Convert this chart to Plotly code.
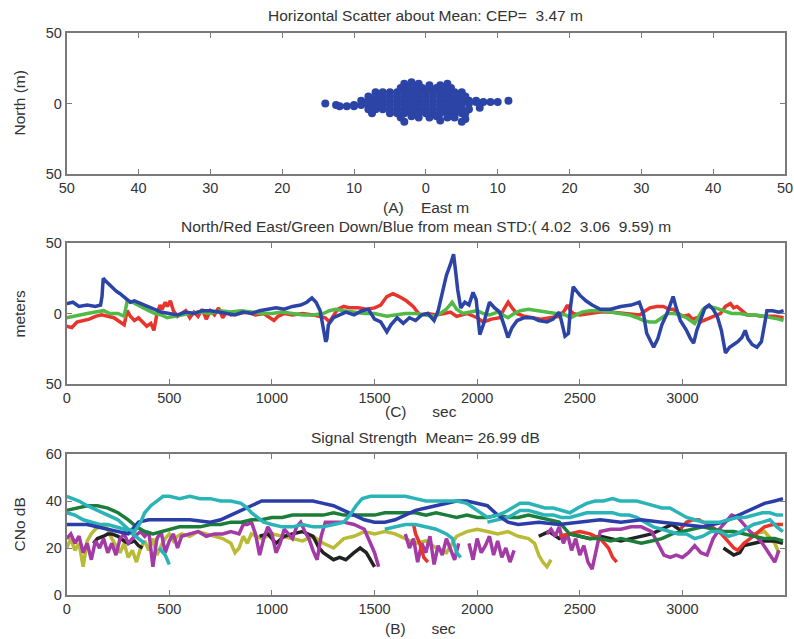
import plotly.graph_objects as go

# ---------------- Panel A: horizontal scatter (East, North in m) ----------------
scat_east = [
    -3, -2, -1, 0.5, 2, 3,
    -3.5, -2.5, -1.5, -0.5, 0.5, 1.5, 2.5, 3.5,
    -7, -6, -5, -4, -3, -2, -1, 0, 1, 2, 3, 4, 5,
    -8, -7, -6, -5, -4, -3, -2, -1, 0, 1, 2, 3, 4, 5, 5.5,
    -9, -8, -7, -6, -5, -4, -3, -2, -1, 0, 1, 2, 3, 4, 5, 6, 7,
    -14, -12.5, -11, -10, -9, -8, -7, -6, -5, -4, -3, -2, -1, 0, 1, 2, 3, 4, 5, 6, 7, 8, 9, 10, 11.5,
    -12, -10, -8, -7, -6, -5, -4, -3, -2, -1, 0, 1, 2, 3, 4, 5, 6, 7.5,
    -5, -4, -3, -2, -1, 0, 1, 2, 3, 4, 5, 5.5,
    -7.5, -3.5, -2, -1, 0.5, 1.5, 3, 4, 5.5,
    -3, 2, 5,
]
scat_north = [
    14, 15, 14, 13, 13, 14,
    11, 11, 11, 11, 11, 11, 11, 11,
    8, 8, 8, 8, 8, 8, 8, 8, 8, 8, 8, 8, 8,
    5, 5, 5, 5, 5, 5, 5, 5, 5, 5, 5, 5, 5, 5, 5,
    2, 2, 2, 2, 2, 2, 2, 2, 2, 2, 2, 2, 2, 2, 2, 2, 2,
    0, -1, -2, -1, -1, -1, -1, -1, -1, -1, -1, -1, -1, -1, -1, -1, -1, -1, -1, 0, 1, 1, 1, 1, 2,
    -2, -2, -4, -4, -4, -4, -4, -4, -4, -4, -4, -4, -4, -4, -4, -4, -4, -3,
    -7, -7, -7, -7, -7, -7, -7, -7, -7, -7, -7, -7,
    -7, -10, -9, -10, -10, -9, -10, -10, -11,
    -13, -12, -13,
]
scatter_xticks = [-50, -40, -30, -20, -10, 0, 10, 20, 30, 40, 50]
scatter_xticktext = ["50", "40", "30", "20", "10", "0", "10", "20", "30", "40", "50"]
pos_yticks = [-50, 0, 50]
pos_yticktext = ["50", "0", "50"]

# ---------------- Panel C: N/E/D deviation from mean (m) vs sec ----------------
down_t = [0, 30, 60, 100, 140, 165, 172, 178, 190, 210, 240, 260, 290, 310, 330, 360, 400, 430, 460, 500,
          540, 580, 620, 660, 700, 740, 780, 820, 860, 900, 940, 980, 1020, 1060, 1100, 1140, 1170, 1195,
          1215, 1235, 1250, 1262, 1268, 1275, 1300, 1330, 1360, 1400, 1440, 1470, 1500, 1530, 1560, 1580,
          1610, 1640, 1670, 1700, 1730, 1760, 1790, 1810, 1830, 1850, 1870, 1885, 1895, 1905, 1920, 1940,
          1960, 1980, 1995, 2005, 2013, 2030, 2060, 2085, 2110, 2135, 2150, 2170, 2195, 2230, 2270, 2300,
          2340, 2370, 2400, 2415, 2428, 2445, 2455, 2468, 2485, 2500, 2530, 2560, 2600, 2650, 2700, 2750,
          2790, 2810, 2826, 2845, 2860, 2880, 2900, 2925, 2945, 2955, 2970, 2990, 3020, 3040, 3055, 3070,
          3090, 3110, 3130, 3150, 3170, 3190, 3210, 3230, 3250, 3270, 3290, 3306, 3320, 3340, 3363, 3385,
          3400, 3412, 3440, 3470, 3493]
down_m = [7, 8, 5, 6, 5, 6, 12, 25, 23, 20, 16, 14, 10, 8, 9, 7, 5, 3, 1, 0,
          -1, 1, 0, 2, 2, 1, 0, -1, 1, 0, 2, 3, 4, 3, 5, 6, 8, 11,
          8, 2, -10, -20, -18, -8, -3, -1, 1, -1, 2, 3, -4, -6, -13, -8,
          -3, -7, -3, -5, -1, 0, -5, 2, 15, 27, 35, 42, 30, 17, 4, 8,
          6, 15, 10, -5, -15, -8, 8, 4, 1, -10, -17, -10, -5, -3, -3, -5,
          -6, -4, 1, -8, -16, -14, 5, 19, 16, 13, 9, 6, 3, 3, 5, 6,
          8, 0, -14, -20, -24, -18, -8, 0, 8, 12, 4, -5, -12, -18, -21, -12,
          -4, 4, 6, 3, -2, -12, -28, -24, -22, -20, -17, -12, -18, -22, -24, -20,
          -8, 2, 2, 1, 2]

north_t = [0, 25, 50, 80, 110, 140, 170, 200, 230, 260, 280, 295, 310, 330, 350, 370, 390, 410, 425, 440,
           455, 465, 480, 490, 505, 520, 540, 560, 580, 600, 620, 640, 660, 680, 700, 720, 740, 760, 780,
           800, 840, 880, 920, 960, 990, 1010, 1030, 1060, 1100, 1150, 1200, 1230, 1260, 1280, 1300, 1320,
           1350, 1380, 1420, 1460, 1500, 1530, 1560, 1590, 1620, 1655, 1688, 1720, 1760, 1800, 1840, 1870,
           1900, 1950, 2000, 2030, 2070, 2111, 2130, 2151, 2175, 2193, 2230, 2274, 2310, 2355, 2400, 2425,
           2440, 2455, 2468, 2500, 2550, 2600, 2650, 2712, 2760, 2793, 2820, 2842, 2875, 2907, 2935, 2955,
           2980, 3004, 3030, 3050, 3070, 3090, 3103, 3130, 3152, 3185, 3210, 3234, 3250, 3266, 3290, 3315,
           3350, 3380, 3412, 3450, 3493]
north_dev = [-9, -10, -6, -5, -4, -2, -1, -2, -3, -6, -8, 2, -2, -5, -3, -6, -9, -7, -12, 0,
             6, 3, 8, 5, 9, 2, -2, 0, 2, -3, 1, -2, 3, -4, 2, -1, 4, -3, 1,
             -1, 0, 1, -1, 0, -3, -5, -2, 0, -1, 0, -1, -2, -3, -6, -1, 3,
             5, 4, 4, 3, 4, 6, 12, 14, 12, 9, 5, -1, 0, -1, 0, 1,
             -2, 0, -3, -6, -4, -3, 3, 8, 3, 0, -2, -3, -4, -3, -2, 2,
             6, 2, 0, -1, 0, 1, 1, 0, -1, -1, 2, 4, 5, 5, 3, 3,
             0, -2, -1, -4, -3, -6, -5, -3, -2, 0, 5, 7, 4, 5, 2, -1,
             -1, -2, -2, -2, -3]

east_t = [0, 30, 60, 100, 140, 180, 210, 250, 280, 295, 320, 345, 370, 400, 430, 460, 490, 520, 560, 600,
          650, 700, 750, 800, 850, 900, 950, 1000, 1050, 1100, 1150, 1200, 1250, 1280, 1310, 1350, 1400,
          1450, 1500, 1530, 1560, 1600, 1650, 1700, 1750, 1790, 1820, 1850, 1878, 1900, 1930, 1960, 2000,
          2030, 2060, 2100, 2130, 2150, 2180, 2210, 2250, 2300, 2350, 2400, 2430, 2455, 2480, 2510, 2550,
          2600, 2650, 2700, 2740, 2780, 2810, 2840, 2870, 2900, 2930, 2960, 2990, 3020, 3040, 3060, 3080,
          3100, 3130, 3160, 3200, 3240, 3280, 3320, 3360, 3400, 3440, 3470, 3493]
east_dev = [-3, -2, -1, 0, 1, 2, 0, 0, -2, 9, 8, 6, 4, 2, 0, -1, -3, -2, -1, 0,
            1, 0, 2, 1, 2, 1, 0, 0, 1, 0, -1, -1, 0, 2, 3, 2, 1,
            0, 0, -1, -2, -1, 0, 0, -1, -2, 0, 3, 8, 3, 0, 1, 2,
            0, -1, 1, -1, -3, 0, 2, 3, 2, 1, 0, -1, -3, -1, 1, 2,
            2, 1, 0, -1, -3, -5, -6, -6, -3, 0, 0, -1, -3, -5, -7, -2,
            3, 5, 4, 2, 0, 0, -1, -1, -2, -3, -4, -5]

# ---------------- Panel B: signal strength CNo (dB) vs sec ----------------
cyan1_t = [0, 30, 60, 100, 150, 200, 250, 300, 330, 360, 380, 410, 440, 470, 500, 550, 600, 650, 700, 750,
           800, 850, 880, 900, 930, 960, 1000, 1050, 1100, 1150, 1200, 1250, 1300, 1350, 1380, 1410, 1440,
           1480, 1550, 1600, 1650, 1700, 1750, 1800, 1850, 1900, 1950, 2000, 2050, 2100, 2130, 2170, 2209,
           2250, 2290, 2330, 2371, 2410, 2452, 2490, 2534, 2575, 2615, 2660, 2696, 2740, 2777, 2820, 2858,
           2900, 2939, 2980, 3021, 3060, 3102, 3140, 3183, 3225, 3265, 3305, 3346, 3390, 3427, 3460, 3490]
cyan1_db = [42, 41, 40, 38, 36, 34, 32, 28, 27, 31, 35, 38, 40, 42, 42, 41, 42, 41, 41, 40,
            40, 39, 37, 35, 33, 31, 30, 29, 29, 30, 29, 29, 30, 31, 34, 38, 41,
            42, 42, 42, 42, 41, 40, 40, 40, 40, 39, 36, 33, 34, 35, 37, 39,
            39, 38, 37, 37, 36, 35, 37, 39, 40, 40, 41, 40, 40, 40, 39, 38,
            37, 37, 35, 33, 32, 31, 31, 31, 32, 33, 33, 34, 35, 35, 34, 34]

cyan2_t = [0, 40, 80, 120, 160, 200, 240, 280, 320, 350, 380, 400, 450, 480, 500,
           1500, 1550, 1600, 1650, 1700, 1750, 1800, 1850, 1880, 1900, 1920, 1940,
           2050, 2100, 2150, 2209, 2250, 2290, 2330, 2371, 2410, 2452, 2490, 2534, 2575, 2615, 2660, 2700,
           2740, 2777, 2820, 2858, 2900, 2939, 2980, 3020, 3060, 3100, 3140, 3183, 3225, 3265, 3305, 3346,
           3390, 3427, 3460, 3490]
cyan2_db = [35, 34, 32, 31, 30, 30, 29, 28, 26, 24, 22, None, 20, 17, 13,
            None, 28, 29, 30, 30, 29, 28, 26, 24, 18, 16, None,
            31, 32, 33, 36, 36, 35, 34, 34, 33, 33, 34, 35, 35, 35, 35, 34,
            34, 33, 31, 29, 28, 27, 26, 26, 24, 25, 27, 27, 25, 26, 28, 30,
            31, 32, 29, 27]

blue_t = [0, 100, 200, 300, 350, 400, 500, 600, 700, 750, 800, 850, 900, 950, 1000, 1100, 1200, 1250,
          1300, 1350, 1400, 1450, 1500, 1550, 1600, 1650, 1700, 1750, 1800, 1850, 1900, 1950, 2000, 2050,
          2100, 2150, 2200, 2300, 2400, 2500, 2600, 2700, 2800, 2900, 3000, 3100, 3200, 3250, 3300, 3350,
          3400, 3450, 3490]
blue_db = [30, 30, 28, 26, 31, 32, 32, 32, 31, 32, 34, 36, 38, 40, 40, 40, 40, 39,
           38, 36, 34, 32, 31, 31, 32, 34, 36, 37, 38, 39, 40, 40, 39, 38,
           34, 31, 30, 31, 30, 31, 32, 31, 32, 31, 30, 29, 31, 33, 35, 37,
           39, 40, 41]

green_t = [0, 50, 100, 150, 200, 250, 300, 340, 380, 420, 460, 500, 550, 600, 650, 700, 750, 800, 850,
           900, 950, 1000, 1050, 1100, 1150, 1200, 1250, 1300, 1350, 1400, 1450, 1500, 1550, 1600, 1650,
           1700, 1750, 1800, 1850, 1900, 1950, 2000, 2050, 2100, 2150, 2200, 2250, 2300, 2350, 2400, 2430,
           2450, 2500, 2550, 2600, 2650, 2700, 2750, 2800, 2850, 2900, 2950, 3000, 3050, 3100, 3150, 3200,
           3250, 3300, 3350, 3400, 3450, 3490]
green_db = [36, 37, 38, 38, 37, 35, 32, 29, 27, 26, 27, 28, 29, 29, 29, 30, 30, 31, 31,
            32, 32, 33, 33, 34, 34, 34, 34, 35, 34, 34, 34, 34, 35, 35, 35,
            35, 34, 35, 34, 33, 34, 33, 33, 34, 33, 33, 34, 33, 32, 31, 28,
            26, 25, 24, 24, 23, 24, 23, 22, 23, 24, 26, 27, 28, 29, 28, 27,
            27, 26, 25, 24, 24, 23]

magenta_t = [0, 20, 40, 60, 80, 100, 120, 140, 160, 180, 200, 220, 240, 260, 280, 300, 330, 360, 380, 400,
             420, 440, 460, 480, 500, 520, 540, 560, 600, 640, 680, 720, 760, 800, 840, 860, 880, 900, 920,
             940, 960, 980, 1000, 1020, 1040, 1060, 1080, 1100, 1120, 1140, 1160, 1180, 1200, 1220, 1240,
             1260, 1300, 1350, 1400, 1450, 1480, 1500, 1520, 1560,
             1650, 1670, 1690, 1710, 1730, 1750, 1770, 1790, 1810, 1830, 1850, 1870, 1890, 1910, 1930,
             1960, 1980, 2000, 2020, 2040, 2060, 2080, 2100, 2120, 2140, 2160, 2180, 2200,
             2340, 2360, 2380, 2400, 2420, 2440, 2460, 2480, 2500, 2520, 2540, 2560, 2600, 2650, 2700,
             2750, 2800, 2850, 2880, 2910, 2940, 2970, 3000, 3030, 3060, 3090, 3120, 3150, 3180, 3210,
             3240, 3270, 3300, 3330, 3360, 3390, 3420, 3450, 3470]
magenta_db = [24, 26, 22, 25, 18, 22, 15, 23, 20, 24, 18, 22, 17, 24, 26, 22, 25, 27, 25, 27,
              12, 24, 27, 18, 23, 26, 20, 25, 26, 27, 25, 26, 26, 27, 26, 30, 30, 31, 26,
              17, 24, 29, 26, 18, 22, 28, 26, 24, 29, 31, 27, 24, 19, 15, 25,
              31, 31, 31, 30, 28, 22, 18, 12, None,
              26, 20, 24, 14, 22, 18, 25, 13, 21, 17, 24, 19, 15, 22, None,
              22, 15, 24, 18, 21, 25, 17, 23, 16, 20, 14, 19, None,
              26, 28, 25, 29, 22, 26, 19, 24, 17, 21, 14, 11, 27, 28, 28,
              29, 29, 27, 22, 17, 16, 17, 16, 18, 21, 18, 17, 24, 28, 31,
              34, 33, 30, 27, 25, 22, 18, 14, 19]

olive_t = [0, 20, 40, 60, 80, 100, 120, 140, 160, 180, 200, 220, 240, 260, 280, 300, 320, 340, 360, 380,
           400, 420, 440, 460, 480, 500, 520, 540, 560, 600, 640, 680, 720, 760, 800, 820, 840, 860, 880,
           900, 950, 1000, 1050, 1100, 1150, 1200, 1250, 1300, 1350, 1400, 1450, 1500, 1550, 1600, 1650,
           1700, 1750, 1800, 1850, 1900, 1950, 2000, 2050, 2100, 2150, 2200, 2250, 2280, 2300, 2320, 2340,
           2360, 3300, 3350, 3400, 3450, 3470]
olive_db = [20, 24, 19, 22, 12, 23, 26, 28, 29, 30, 28, 24, 21, 18, 22, 16, 19, 14, 20, 23,
            19, 24, 17, 21, 24, 26, 23, 25, 26, 25, 27, 26, 25, 24, 22, 18, 20, 25, 22,
            26, 24, 26, 25, 24, 23, 25, 22, 20, 24, 25, 27, 26, 27, 26, 24,
            22, 23, 20, 18, 25, 27, 28, 27, 26, 27, 25, 24, 22, 17, 14, 12,
            15, None, 26, 27, 22, 18]

black_t = [130, 150, 180, 200, 220, 250, 280, 300, 330, 350, 370, 380,
           940, 980, 1020, 1060, 1100, 1150, 1200, 1230, 1250, 1280, 1300, 1330, 1360, 1400, 1430, 1460,
           1480, 1500, 1510,
           2300, 2350, 2400, 2450, 2500, 2550, 2600, 2650, 2700, 2750, 2800, 2850, 2900, 2950, 3000, 3020,
           3200, 3250, 3280, 3300, 3350, 3400, 3450, 3490]
black_db = [22, 24, 25, 26, 26, 25, 23, 22, 23, 21, 20, None,
            25, 26, 22, 25, 26, 27, 25, 20, 18, 16, 15, 16, 15, 18, 20, 18,
            15, 12, None,
            25, 27, 24, 26, 25, 24, 25, 24, 23, 24, 25, 26, 28, 30, 27, None,
            20, 17, 18, 21, 22, 23, 23, 22]

red_t = [1690, 1700, 1720, 1740, 1760, 1770,
         2400, 2450, 2500, 2550, 2600, 2640, 2660, 2680, 2690,
         2990, 3020, 3050, 3080, 3100, 3130, 3160, 3190, 3220, 3250, 3270, 3300, 3330, 3360, 3400, 3440,
         3490]
red_db = [30, 26, 22, 16, 14, None,
          25, 26, 27, 26, 24, 20, 16, 14, None,
          28, 31, 32, 32, 31, 30, 28, 26, 23, 20, 19, 22, 24, 26, 29, 30,
          30]

time_ticks = [0, 500, 1000, 1500, 2000, 2500, 3000]
cno_ticks = [0, 20, 40, 60]

# ---------------- figure ----------------
W, H = 794, 639
XL, XR = 66.7, 785.0
panels_px = [(33, 174), (243, 384), (454, 595)]


def ydom(top, bot):
    return [1 - bot / H, 1 - top / H]


xdom = [XL / W, XR / W]
fig = go.Figure()

fig.add_trace(go.Scatter(x=scat_east, y=scat_north, mode="markers",
                         marker=dict(size=8, color="#2b44a6"), xaxis="x", yaxis="y", showlegend=False))

line_w = 3.5
for t, v, c in [(north_t, north_dev, "#e8352b"), (east_t, east_dev, "#52b947"), (down_t, down_m, "#2b44a6")]:
    fig.add_trace(go.Scatter(x=t, y=v, mode="lines", line=dict(color=c, width=line_w),
                             xaxis="x2", yaxis="y2", showlegend=False))

for t, v, c in [(olive_t, olive_db, "#b9bb35"), (black_t, black_db, "#222222"),
                (magenta_t, magenta_db, "#a33aa6"), (red_t, red_db, "#e8352b"),
                (green_t, green_db, "#1c7c3a"), (cyan2_t, cyan2_db, "#2bb4b8"),
                (blue_t, blue_db, "#2b3da8"), (cyan1_t, cyan1_db, "#2bb4b8")]:
    fig.add_trace(go.Scatter(x=t, y=v, mode="lines", line=dict(color=c, width=line_w),
                             connectgaps=False, xaxis="x3", yaxis="y3", showlegend=False))

tickfont = dict(family="Liberation Sans, Arial, sans-serif", size=14.5, color="#333333")
axis_common = dict(showline=True, linecolor="#7a7a7a", linewidth=1.8, mirror="ticks", ticks="inside",
                   ticklen=5, tickcolor="#7a7a7a", tickwidth=1.2, showgrid=False, zeroline=False,
                   tickfont=tickfont, automargin=False, ticklabeloverflow="allow")

fig.update_layout(
    width=W, height=H, margin=dict(l=0, r=0, t=0, b=0, autoexpand=False),
    paper_bgcolor="white", plot_bgcolor="white",
    xaxis=dict(domain=xdom, anchor="y", range=[-50, 50], tickvals=scatter_xticks,
               ticktext=scatter_xticktext, **axis_common),
    yaxis=dict(domain=ydom(*panels_px[0]), anchor="x", range=[-50, 50], tickvals=pos_yticks,
               ticktext=pos_yticktext, **axis_common),
    xaxis2=dict(domain=xdom, anchor="y2", range=[0, 3500], tickvals=time_ticks, **axis_common),
    yaxis2=dict(domain=ydom(*panels_px[1]), anchor="x2", range=[-50, 50], tickvals=pos_yticks,
                ticktext=pos_yticktext, **axis_common),
    xaxis3=dict(domain=xdom, anchor="y3", range=[0, 3500], tickvals=time_ticks, **axis_common),
    yaxis3=dict(domain=ydom(*panels_px[2]), anchor="x3", range=[0, 60], tickvals=cno_ticks, **axis_common),
)

txtfont = dict(family="Liberation Sans, Arial, sans-serif", size=15.5, color="#333333")


def add_text(x_px, y_px, text, angle=0):
    fig.add_annotation(x=x_px / W, y=1 - y_px / H, xref="paper", yref="paper", text=text,
                       showarrow=False, font=txtfont, textangle=angle, xanchor="center", yanchor="middle")


cx = (XL + XR) / 2
add_text(cx, 15, "Horizontal Scatter about Mean: CEP=  3.47 m")
add_text(cx, 207, "(A)    East m")
add_text(cx, 226, "North/Red East/Green Down/Blue from mean STD:( 4.02  3.06  9.59) m")
add_text(cx - 5, 411, "(C)      sec")
add_text(cx, 437, "Signal Strength  Mean= 26.99 dB")
add_text(cx - 5, 628, "(B)      sec")
add_text(19, 103.5, "North (m)", -90)
add_text(19, 313.5, "meters", -90)
add_text(19, 524.5, "CNo dB", -90)

fig.write_html("out.html", config={"displayModeBar": False},
               post_script="document.body.style.margin='0';document.body.style.overflow='hidden';")
